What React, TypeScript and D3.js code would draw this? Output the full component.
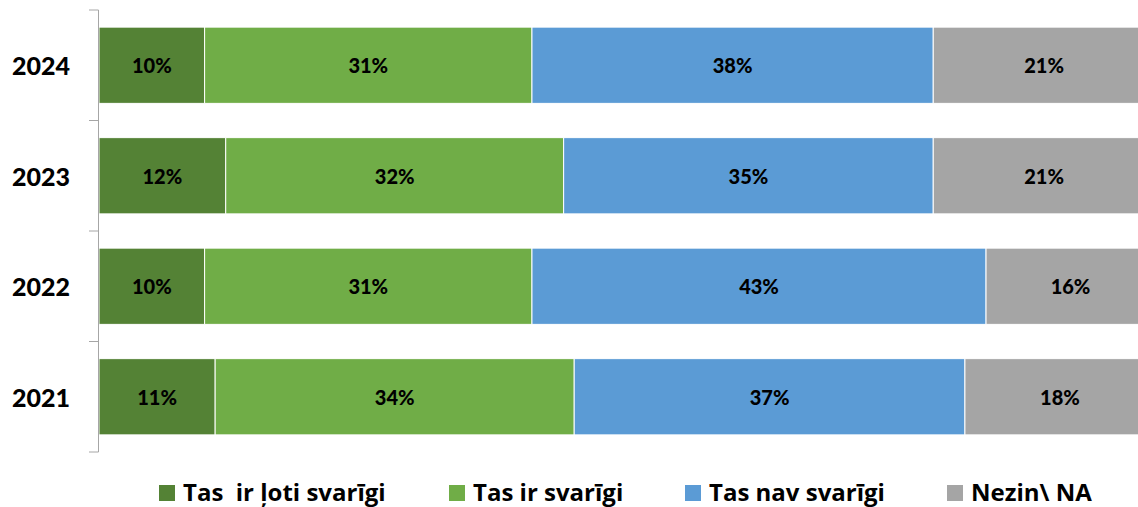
import React from "react";
import { scaleLinear, scaleBand } from "d3";

const years = ["2024", "2023", "2022", "2021"];
const seriesNames = ["Tas  ir ļoti svarīgi", "Tas ir svarīgi", "Tas nav svarīgi", "Nezin\\ NA"];
const veryImportant = [10, 12, 10, 11];
const important = [31, 32, 31, 34];
const notImportant = [38, 35, 43, 37];
const dontKnow = [21, 21, 16, 18];
const colors = ["#548235", "#70AD47", "#5B9BD5", "#A5A5A5"];

const font = "Lato, 'Open Sans', sans-serif";
const legendFont = "'Open Sans', Lato, sans-serif";

const App = () => {
    const width = 1138
    const height = 507
    const series = [veryImportant, important, notImportant, dontKnow]

    // scales
    const xScale = scaleLinear().domain([0, 100]).range([99, 1155])
    const yScale = scaleBand()
        .domain(years)
        .range([10, 452])
        .paddingInner(0.31)
        .paddingOuter(0.155)

    const step = yScale.step()
    const tickYs = [0, 1, 2, 3, 4].map(i => 10 + i * step)

    const bars = years.map((yr, yi) => {
        let acc = 0
        return (
            <g key={yr}>
                {series.map((s, si) => {
                    const x0 = xScale(acc)
                    acc += s[yi]
                    const x1 = xScale(acc)
                    const y = yScale(yr) as number
                    return (
                        <g key={si}>
                            <rect x={x0} y={y} width={x1 - x0} height={yScale.bandwidth()}
                                fill={colors[si]} stroke="#FFF" strokeWidth={1} />
                            <text x={(x0 + x1) / 2} y={y + yScale.bandwidth() / 2}
                                textAnchor="middle" dominantBaseline="central"
                                fontFamily={font} fontWeight={900} fontSize={20} fill="#000">
                                {s[yi]}%
                            </text>
                        </g>
                    )
                })}
                <text x={70} y={(yScale(yr) as number) + yScale.bandwidth() / 2}
                    textAnchor="end" dominantBaseline="central"
                    fontFamily={font} fontWeight={900} fontSize={25} fill="#000">
                    {yr}
                </text>
            </g>
        )
    })

    const legendX = [159, 449, 685, 947]
    const legend = seriesNames.map((n, i) => (
        <g key={n}>
            <rect x={legendX[i]} y={485} width={16} height={16} fill={colors[i]} />
            <text x={legendX[i] + 24} y={501} fontFamily={legendFont} fontWeight={700}
                fontSize={24} fill="#000" style={{ whiteSpace: "pre" }}>
                {n}
            </text>
        </g>
    ))

    return <svg width={width} height={height} viewBox={`0 0 ${width} ${height}`}
        style={{ position: "absolute", left: 0, top: 0, background: "#FFF" }}>
        {bars}
        <line x1={98.5} x2={98.5} y1={10} y2={452} stroke="#A6A6A6" />
        {tickYs.map((t, i) => (
            <line key={i} x1={89} x2={98.5} y1={t} y2={t} stroke="#A6A6A6" />
        ))}
        {legend}
    </svg>
}

export default App;
